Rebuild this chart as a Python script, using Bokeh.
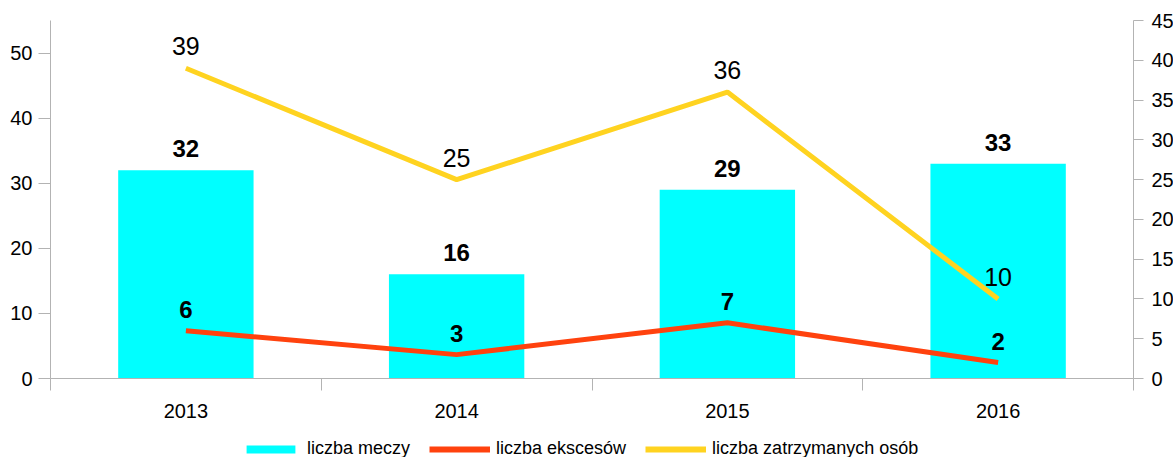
from bokeh.plotting import figure
from bokeh.layouts import column
from bokeh.models import (Range1d, LinearAxis, FixedTicker, ColumnDataSource,
                          LabelSet, Legend, LegendItem)
from bokeh.core.properties import value
from bokeh.embed import file_html
from bokeh.resources import INLINE

# ---- data ----
years = ["2013", "2014", "2015", "2016"]
liczba_meczy = [32, 16, 29, 33]
liczba_ekscesow = [6, 3, 7, 2]
liczba_zatrzymanych = [39, 25, 36, 10]
left_ticks = [0, 10, 20, 30, 40, 50]
right_ticks = [0, 5, 10, 15, 20, 25, 30, 35, 40, 45]
series_names = ["liczba meczy", "liczba ekscesów", "liczba zatrzymanych osób"]

FONT = "Liberation Sans"
AXIS_COLOR = "#b3b3b3"
CYAN = "#00ffff"
RED = "#ff420e"
YELLOW = "#ffd320"

xs = [i + 0.5 for i in range(len(years))]
src = ColumnDataSource(dict(
    x=xs,
    meczy=liczba_meczy,
    eksc=liczba_ekscesow,
    zatr=liczba_zatrzymanych,
    meczy_t=[str(v) for v in liczba_meczy],
    eksc_t=[str(v) for v in liczba_ekscesow],
    zatr_t=[str(v) for v in liczba_zatrzymanych],
))

p = figure(frame_width=1083, frame_height=358,
           x_range=Range1d(0, len(years)), y_range=Range1d(0, 55),
           output_backend="svg", toolbar_location=None)
p.min_border = 0
p.min_border_left = 50
p.min_border_right = 40
p.min_border_top = 20
p.min_border_bottom = 47
p.outline_line_color = None
p.xgrid.grid_line_color = None
p.ygrid.grid_line_color = None
p.background_fill_color = "white"
p.border_fill_color = "white"

p.extra_y_ranges = {"right": Range1d(0, 45)}

# bars
bars = p.vbar(x="x", top="meczy", width=0.5, source=src,
              fill_color=CYAN, line_color=None)
# lines
red = p.line(x="x", y="eksc", source=src, y_range_name="right",
             line_color=RED, line_width=5)
yel = p.line(x="x", y="zatr", source=src, y_range_name="right",
             line_color=YELLOW, line_width=5)

# x axis
xa = p.xaxis[0]
xa.ticker = FixedTicker(ticks=xs, minor_ticks=list(range(len(years) + 1)))
xa.major_label_overrides = {x: y for x, y in zip(xs, years)}
xa.major_tick_out = 0
xa.major_tick_in = 0
xa.minor_tick_out = 12
xa.minor_tick_in = 0
xa.minor_tick_line_color = AXIS_COLOR
xa.axis_line_color = AXIS_COLOR
xa.major_label_text_font = FONT
xa.major_label_text_font_size = "20px"
xa.major_label_text_color = "#000000"
xa.major_label_standoff = 13

# left axis
ya = p.yaxis[0]
ya.ticker = FixedTicker(ticks=left_ticks)
ya.major_tick_out = 12
ya.major_tick_in = 0
ya.minor_tick_line_color = None
ya.major_tick_line_color = AXIS_COLOR
ya.axis_line_color = AXIS_COLOR
ya.major_label_text_font = FONT
ya.major_label_text_font_size = "20px"
ya.major_label_text_color = "#000000"
ya.major_label_standoff = 6

# right axis
ra = LinearAxis(y_range_name="right", ticker=FixedTicker(ticks=right_ticks))
ra.major_tick_out = 10
ra.major_tick_in = 0
ra.minor_tick_line_color = None
ra.major_tick_line_color = AXIS_COLOR
ra.axis_line_color = AXIS_COLOR
ra.major_label_text_font = FONT
ra.major_label_text_font_size = "20px"
ra.major_label_text_color = "#000000"
ra.major_label_standoff = 8
p.add_layout(ra, "right")

# data labels
lab_bars = LabelSet(x="x", y="meczy", text="meczy_t", source=src,
                    y_offset=13, text_align="center", text_baseline="alphabetic",
                    text_font=value(FONT), text_font_size=value("24px"),
                    text_font_style="bold", text_color="#000000")
lab_red = LabelSet(x="x", y="eksc", text="eksc_t", source=src, y_range_name="right",
                   y_offset=13, text_align="center", text_baseline="alphabetic",
                   text_font=value(FONT), text_font_size=value("24px"),
                   text_font_style="bold", text_color="#000000")
lab_yel = LabelSet(x="x", y="zatr", text="zatr_t", source=src, y_range_name="right",
                   y_offset=13, text_align="center", text_baseline="alphabetic",
                   text_font=value(FONT), text_font_size=value("25px"),
                   text_color="#000000")
p.add_layout(lab_bars)
p.add_layout(lab_red)
p.add_layout(lab_yel)

# ---- legend strip (separate figure below the chart) ----
# Same series drawn here, but outside this strip's visible ranges, so only
# the legend swatches show.
lg = figure(width=1173, height=32, x_range=Range1d(100, 101), y_range=Range1d(100, 101),
            x_axis_location=None, y_axis_location=None,
            output_backend="svg", toolbar_location=None)
lg.min_border = 0
lg.xgrid.grid_line_color = None
lg.ygrid.grid_line_color = None
lg.outline_line_color = None
lg.background_fill_color = "white"
lg.border_fill_color = "white"
k_bar = lg.vbar(x="x", top="meczy", width=0.5, source=src, fill_color=CYAN, line_color=None)
k_red = lg.line(x="x", y="eksc", source=src, line_color=RED, line_width=6)
k_yel = lg.line(x="x", y="zatr", source=src, line_color=YELLOW, line_width=6)

legend = Legend(items=[
    LegendItem(label=series_names[0], renderers=[k_bar]),
    LegendItem(label=series_names[1], renderers=[k_red]),
    LegendItem(label=series_names[2], renderers=[k_yel]),
], orientation="horizontal", location=(190, -2))
legend.glyph_width = 61
legend.glyph_height = 10
legend.label_standoff = 6
legend.spacing = 19
legend.padding = 0
legend.margin = 0
legend.border_line_color = None
legend.background_fill_alpha = 0
legend.label_text_font = FONT
legend.label_text_font_size = "18px"
legend.label_text_color = "#000000"
legend.label_height = 20
lg.add_layout(legend)

layout = column(p, lg, spacing=0)
open("out.html", "w").write(file_html(layout, INLINE))
